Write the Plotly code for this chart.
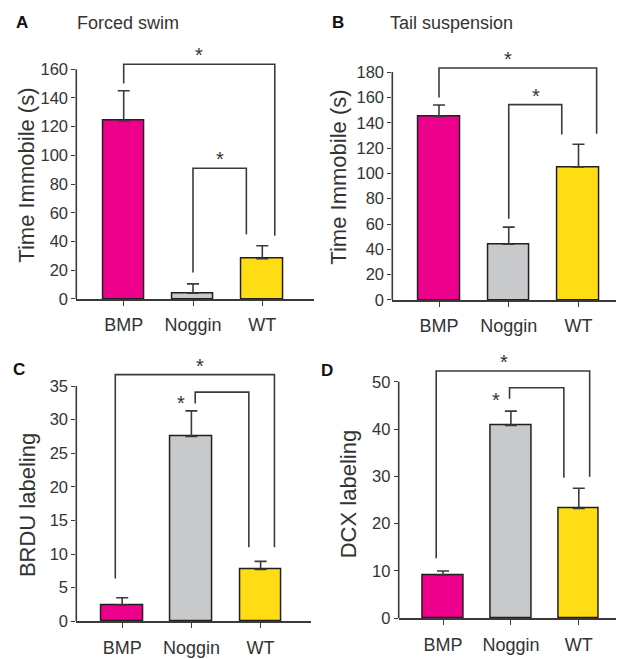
import plotly.graph_objects as go

W, H = 624, 659

categories = ["BMP", "Noggin", "WT"]
colors = ["#EC008C", "#C8C9CB", "#FFDD15"]

# Panel A: forced swim
a_values = [124, 4, 28]
a_errors = [21, 6.5, 9]
a_ticks = [0, 20, 40, 60, 80, 100, 120, 140, 160]
# Panel B: tail suspension
b_values = [145, 44, 105]
b_errors = [9, 13.5, 18]
b_ticks = [0, 20, 40, 60, 80, 100, 120, 140, 160, 180]
# Panel C: BRDU
c_values = [2.4, 27.5, 7.7]
c_errors = [1.1, 3.8, 1.2]
c_ticks = [0, 5, 10, 15, 20, 25, 30, 35]
# Panel D: DCX
d_values = [9.1, 40.8, 23.2]
d_errors = [0.9, 3.0, 4.3]
d_ticks = [0, 10, 20, 30, 40, 50]

# significance brackets: (x_left, x_right, y_top, y_left_end, y_right_end, star_x, star_y)
a_brackets = [(0, 2.18, 163.4, 150, 44, 1.09, 163.4), (1.0, 1.77, 91, 18.5, 45, 1.385, 91)]
b_brackets = [(0, 2.26, 183.3, 160, 131.3, 0.985, 183.3), (1.0, 1.76, 154.3, 64.2, 130.7, 1.39, 154.3)]
c_brackets = [(-0.10, 2.20, 36.7, 6.36, 11.0, 1.12, 36.7), (1.055, 1.83, 34.1, 32.4, 11.0, 0.855, 31.2)]
d_brackets = [(-0.10, 2.16, 52.3, 12.7, 29.9, 0.90, 52.3), (0.98, 1.78, 48.75, 46.4, 29.7, 0.78, 44.3)]

panels = [
    dict(values=a_values, errors=a_errors, ticks=a_ticks, brackets=a_brackets,
         ytitle="Time Immobile (s)", letter="A", title="Forced swim",
         ax_left=68.3, ax_right=306, c0=115.7, sp=69.3, y0px=295, ytpx=62, top_px=40,
         ytitle_x=19, ytitle_y=170, letter_xy=(14, 15), title_xy=(67, 15)),
    dict(values=b_values, errors=b_errors, ticks=b_ticks, brackets=b_brackets,
         ytitle="Time Immobile (s)", letter="B", title="Tail suspension",
         ax_left=384.3, ax_right=618, c0=431, sp=69.75, y0px=296, ytpx=65, top_px=40,
         ytitle_x=331, ytitle_y=172, letter_xy=(330, 15), title_xy=(380, 15)),
    dict(values=c_values, errors=c_errors, ticks=c_ticks, brackets=c_brackets,
         ytitle="BRDU labeling", letter="C", title="",
         ax_left=68.3, ax_right=303, c0=114.2, sp=69.2, y0px=621.7, ytpx=383.3, top_px=350,
         ytitle_x=19, ytitle_y=504, letter_xy=(11, 366), title_xy=None),
    dict(values=d_values, errors=d_errors, ticks=d_ticks, brackets=d_brackets,
         ytitle="DCX labeling", letter="D", title="",
         ax_left=390.7, ax_right=615, c0=435, sp=67.9, y0px=618.7, ytpx=379, top_px=345,
         ytitle_x=340, ytitle_y=493, letter_xy=(319, 368), title_xy=None),
]

TXT = "#333333"
LINE = "#3a3a3a"
FONT = "Liberation Sans, Arial, sans-serif"


def px_x(v):
    return v / W


def px_y(v):
    return 1 - v / H


fig = go.Figure()
annotations = []
shapes = []
layout_axes = {}

for i, p in enumerate(panels):
    n = i + 1
    xa = "x" if n == 1 else f"x{n}"
    ya = "y" if n == 1 else f"y{n}"
    xkey = "xaxis" if n == 1 else f"xaxis{n}"
    ykey = "yaxis" if n == 1 else f"yaxis{n}"

    xlo = (p["ax_left"] - p["c0"]) / p["sp"]
    xhi = (p["ax_right"] - p["c0"]) / p["sp"]
    ymax = p["ticks"][-1]
    upp = ymax / (p["y0px"] - p["ytpx"])
    ytop = (p["y0px"] - p["top_px"]) * upp

    fig.add_trace(go.Bar(
        x=[0, 1, 2], y=p["values"], width=0.6,
        marker=dict(color=colors, line=dict(color="#231F20", width=1.5)),
        error_y=dict(type="data", symmetric=False, array=p["errors"],
                     arrayminus=[0, 0, 0], color=LINE, thickness=1.6, width=6),
        xaxis=xa, yaxis=ya, showlegend=False, hoverinfo="skip"))

    for (xl, xr, yt, yle, yre, sx, sy) in p["brackets"]:
        fig.add_trace(go.Scatter(
            x=[xl, xl, xr, xr], y=[yle, yt, yt, yre], mode="lines",
            line=dict(color=LINE, width=1.6), xaxis=xa, yaxis=ya,
            showlegend=False, hoverinfo="skip"))
        annotations.append(dict(x=sx, y=sy, xref=xa, yref=ya, text="*",
                                showarrow=False, yanchor="bottom", yshift=-4,
                                font=dict(size=20, color=TXT, family=FONT)))

    layout_axes[xkey] = dict(
        domain=[px_x(p["ax_left"]), px_x(p["ax_right"])], range=[xlo, xhi],
        anchor=ya, showline=True, linecolor=LINE, linewidth=1.6,
        tickvals=[0, 1, 2], ticktext=categories, ticks="outside", ticklen=5,
        tickwidth=1.2, tickcolor=LINE, ticklabelstandoff=4,
        tickfont=dict(size=18, color=TXT, family=FONT),
        showgrid=False, zeroline=False, fixedrange=True)
    layout_axes[ykey] = dict(
        domain=[px_y(p["y0px"]), px_y(p["top_px"])], range=[0, ytop],
        anchor=xa, showline=False, tickvals=p["ticks"], ticks="outside",
        ticklen=4, tickwidth=1.2, tickcolor=LINE,
        tickfont=dict(size=16.5, color=TXT, family=FONT),
        showgrid=False, zeroline=False, fixedrange=True)

    # y axis line from 0 to top tick
    shapes.append(dict(type="line", xref=f"{xa} domain", yref=ya, x0=0, x1=0,
                       y0=0, y1=ymax, line=dict(color=LINE, width=1.6)))

    annotations.append(dict(x=px_x(p["ytitle_x"]), y=px_y(p["ytitle_y"]),
                            xref="paper", yref="paper", text=p["ytitle"],
                            textangle=-90, showarrow=False,
                            xanchor="center", yanchor="middle",
                            font=dict(size=22, color=TXT, family=FONT)))
    lx, ly = p["letter_xy"]
    annotations.append(dict(x=px_x(lx), y=px_y(ly), xref="paper", yref="paper",
                            text="<b>" + p["letter"] + "</b>", showarrow=False,
                            xanchor="center", yanchor="middle",
                            font=dict(size=17, color="#111", family=FONT)))
    if p["title_xy"]:
        tx, ty = p["title_xy"]
        annotations.append(dict(x=px_x(tx), y=px_y(ty), xref="paper", yref="paper",
                                text=p["title"], showarrow=False,
                                xanchor="left", yanchor="middle",
                                font=dict(size=18, color=TXT, family=FONT)))

fig.update_layout(
    width=W, height=H, margin=dict(l=0, r=0, t=0, b=0),
    paper_bgcolor="white", plot_bgcolor="white",
    annotations=annotations, shapes=shapes, showlegend=False,
    bargap=0, **layout_axes)

fig.write_html("out.html")
